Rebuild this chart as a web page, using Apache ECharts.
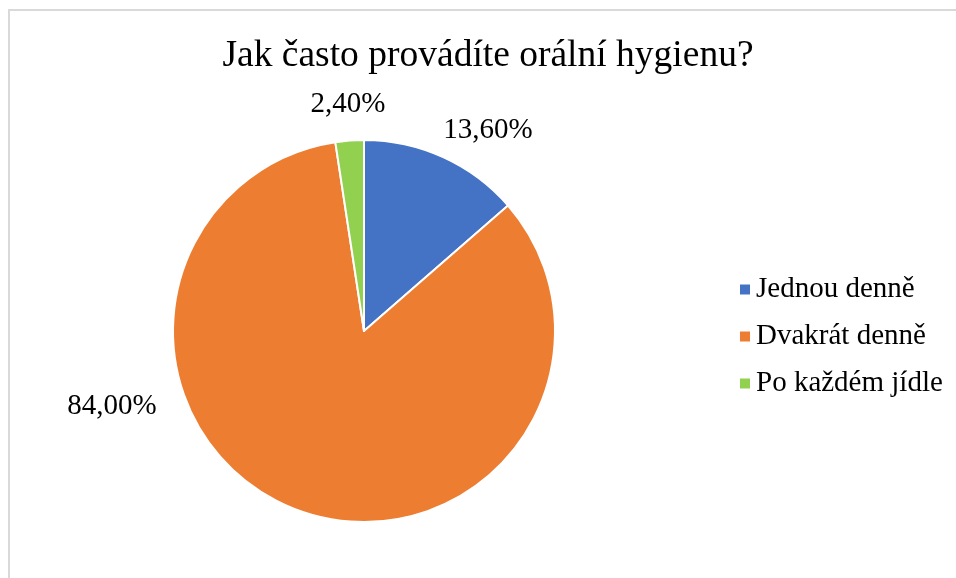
<!DOCTYPE html>
<html>
<head>
<meta charset="utf-8">
<script src="https://cdn.jsdelivr.net/npm/echarts@6/dist/echarts.min.js"></script>
<style>
  html, body { margin: 0; padding: 0; background: #fff; }
  #chart { width: 956px; height: 578px; }
</style>
</head>
<body>
<div id="chart"></div>
<script>
// Survey answers: how often oral hygiene is done (percent of respondents)
const categories = ['Jednou denně', 'Dvakrát denně', 'Po každém jídle'];
const shares = [13.6, 84.0, 2.4];
const colors = ['#4472C4', '#ED7D31', '#92D050'];

const serif = '"Liberation Serif", "Times New Roman", serif';

// Where each value label sits (best-fit placement around the pie)
const labelSpots = [
  { x: 488, y: 130 },
  { x: 112, y: 406 },
  { x: 348, y: 104 }
];

const chart = echarts.init(document.getElementById('chart'));
chart.setOption({
  animation: false,
  backgroundColor: '#fff',
  title: {
    text: 'Jak často provádíte orální hygienu?',
    left: 483,
    top: 32,
    textAlign: 'center',
    textStyle: { fontFamily: serif, fontSize: 37.5, fontWeight: 'normal', color: '#000' }
  },
  graphic: [{
    type: 'rect',
    shape: { x: 9, y: 10, width: 1000, height: 700 },
    style: { fill: 'none', stroke: '#d9d9d9', lineWidth: 2 },
    silent: true
  }],
  legend: {
    orient: 'vertical',
    left: 733,
    top: 270,
    icon: 'rect',
    itemWidth: 12,
    itemHeight: 12,
    itemGap: 18,
    textStyle: { fontFamily: serif, fontSize: 29, color: '#000', padding: [0, 0, 0, 0] },
    data: categories
  },
  series: [{
    type: 'pie',
    center: [364, 331],
    radius: 191,
    startAngle: 90,
    clockwise: true,
    color: colors,
    itemStyle: { borderColor: '#fff', borderWidth: 2 },
    label: {
      show: true,
      position: 'outside',
      formatter: p => p.value.toFixed(2).replace('.', ',') + '%',
      fontFamily: serif,
      fontSize: 29,
      color: '#000'
    },
    labelLine: { show: false },
    labelLayout: p => ({
      x: labelSpots[p.dataIndex].x,
      y: labelSpots[p.dataIndex].y,
      align: 'center',
      verticalAlign: 'middle'
    }),
    emphasis: { disabled: true },
    data: categories.map((name, i) => ({ name, value: shares[i] }))
  }]
});
</script>
</body>
</html>
